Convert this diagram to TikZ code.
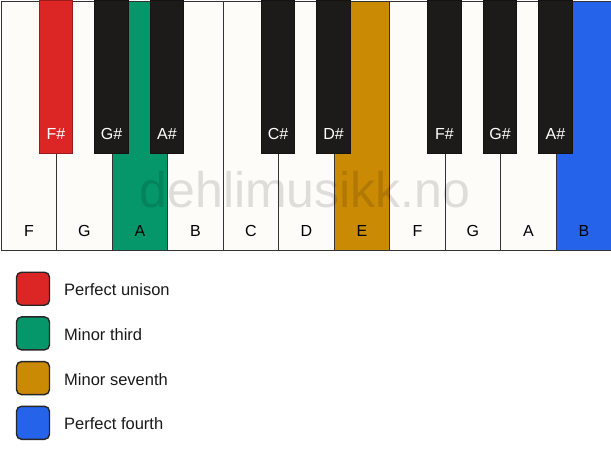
\documentclass[tikz,border=0pt]{standalone}
\usepackage{fontspec}
\setmainfont{Liberation Sans}
\usetikzlibrary{calc}
\definecolor{keyred}{HTML}{DC2626}
\definecolor{keygreen}{HTML}{059669}
\definecolor{keyorange}{HTML}{CA8A04}
\definecolor{keyblue}{HTML}{2563EB}
\definecolor{ivory}{HTML}{FDFCF9}
\definecolor{ebony}{HTML}{1C1B1A}
\definecolor{edge}{HTML}{333333}
\tikzset{
  whitekey/.style={draw=edge, line width=1.4pt, fill=ivory, minimum width=55.5pt, minimum height=249pt, inner sep=0pt, anchor=north west},
  blackkey/.style={draw=ebony, line width=1pt, fill=ebony, minimum width=33.5pt, minimum height=152.5pt, inner sep=0pt, anchor=north},
  wlabel/.style={font=\fontsize{16}{18}\selectfont, text=black},
  blabel/.style={font=\fontsize{16}{18}\selectfont, text=white},
  swatch/.style={draw=black!85, line width=1.4pt, rounded corners=5pt, minimum width=33pt, minimum height=33pt, inner sep=0pt},
  legtext/.style={font=\fontsize{16.5}{19}\selectfont, anchor=west, text=black!90, inner sep=0pt},
  watermark/.style={font=\fontsize{50}{56}\selectfont, text=black, opacity=0.12}
}
\begin{document}
\begin{tikzpicture}[x=1pt,y=-1pt]
\useasboundingbox[fill=white] (0,0) rectangle (611,461);
% white keys
\foreach \i/\c in {0/ivory,1/ivory,2/keygreen,3/ivory,4/ivory,5/ivory,6/keyorange,7/ivory,8/ivory,9/ivory,10/keyblue}{
  \node[whitekey, fill=\c] (w\i) at ({0.5+55.5*\i},0.5) {};
}
\foreach \i/\t in {0/F,1/G,2/A,3/B,4/C,5/D,6/E,7/F,8/G,9/A,10/B}{
  \node[wlabel] (wl\i) at ($(w\i.south)+(0,-19.5)$) {\t};
}
% black keys
\foreach \k/\c/\t in {1/keyred/F\#,2/ebony/G\#,3/ebony/A\#,5/ebony/C\#,6/ebony/D\#,8/ebony/F\#,9/ebony/G\#,10/ebony/A\#}{
  \node[blackkey, fill=\c, draw=\c!70!black] (b\k) at ({0.5+55.5*\k},0) {};
  \node[blabel] (bl\k) at ($(b\k.south)+(0,-19.5)$) {\t};
}
% watermark
\node[watermark] (wm) at (305,190) {dehlimusikk.no};
% legend
\node[swatch, fill=keyred] (s1) at (33,288.7) {};
\node[legtext] (t1) at (64,290) {Perfect unison};
\node[swatch, fill=keygreen] (s2) at (33,333.4) {};
\node[legtext] (t2) at (64,334.5) {Minor third};
\node[swatch, fill=keyorange] (s3) at (33,378.1) {};
\node[legtext] (t3) at (64,379.2) {Minor seventh};
\node[swatch, fill=keyblue] (s4) at (33,422.8) {};
\node[legtext] (t4) at (64,423.9) {Perfect fourth};
\end{tikzpicture}
\end{document}
